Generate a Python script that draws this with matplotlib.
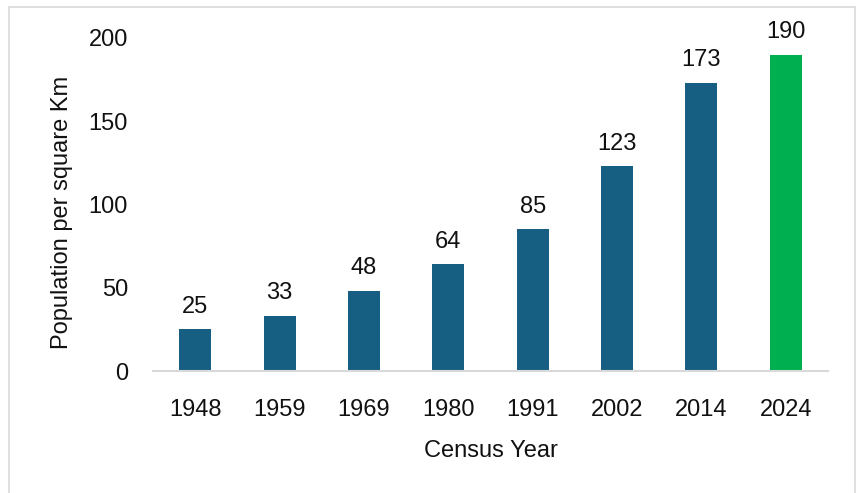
import matplotlib
matplotlib.use("Agg")
import matplotlib.pyplot as plt
from matplotlib.patches import Rectangle

years = ["1948", "1959", "1969", "1980", "1991", "2002", "2014", "2024"]
density = [25, 33, 48, 64, 85, 123, 173, 190]
bar_colors = ["#175f82"] * 7 + ["#00b050"]
y_ticks = [0, 50, 100, 150, 200]

plt.rcParams['font.family'] = ['Liberation Sans', 'DejaVu Sans']
FS = 17

fig = plt.figure(figsize=(8.56, 4.93), dpi=100)
W, H = 856, 493
ax = fig.add_axes([153 / W, 1 - 371 / H, (828 - 153) / W, (371 - 38) / H])

x = list(range(len(years)))
ax.bar(x, density, width=0.38, color=bar_colors, zorder=2)
for xi, v in zip(x, density):
    ax.text(xi, v + 7, str(v), ha="center", va="bottom", fontsize=FS, color="#111111")

ax.set_xlim(-0.5, len(years) - 0.5)
ax.set_ylim(0, 200)
ax.set_yticks(y_ticks)
ax.set_yticklabels([str(t) for t in y_ticks], fontsize=FS, color="#111111")
ax.set_xticks(x)
ax.set_xticklabels(years, fontsize=FS, color="#111111")
ax.tick_params(axis="both", length=0)
ax.tick_params(axis="x", pad=20)
ax.tick_params(axis="y", pad=18)
for s in ["top", "right", "left"]:
    ax.spines[s].set_visible(False)
ax.spines["bottom"].set_color("#d9d9d9")
ax.spines["bottom"].set_linewidth(1.5)
ax.set_xlabel("Census Year", fontsize=FS, color="#111111", labelpad=14)
ax.set_ylabel("Population per square Km", fontsize=FS, color="#111111",
              va="center", ha="center")
ax.yaxis.set_label_coords((62 - 153) / 675, (371 - 212) / 333)

fig.patches.append(Rectangle((9 / W, -0.05), (855 - 9) / W, 1.05 - 7 / H,
                             transform=fig.transFigure, fill=False,
                             edgecolor="#d9d9d9", linewidth=1.2))

fig.savefig("out.png", dpi=100)
